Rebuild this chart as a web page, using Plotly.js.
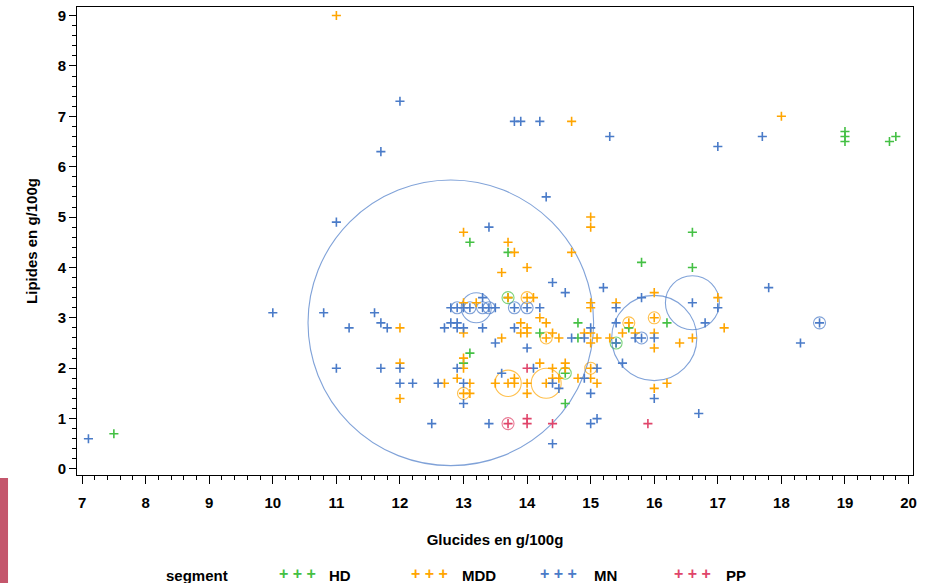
<!DOCTYPE html>
<html>
<head>
<meta charset="utf-8">
<script src="https://cdn.plot.ly/plotly-3.0.1.min.js"></script>
<style>
html,body{margin:0;padding:0;background:#fff;}
#chart{width:927px;height:583px;}
</style>
</head>
<body>
<div id="chart"></div>
<script>
// ---- Data (glucides x, lipides y, en g/100g) ----
const segments = ["HD", "MDD", "MN", "PP"];
const segmentColors = ["#44c044", "#ffa500", "#4a7bc8", "#e0456a"];

const hdGlucides = [7.5, 13.1, 13.7, 13.7, 13.1, 13.0, 14.2, 14.8, 14.8, 14.6, 14.6, 15.4, 15.6, 15.8, 16.6, 16.6, 16.2, 19.0, 19.0, 19.0, 19.7, 19.8];
const hdLipides  = [0.7, 4.5, 4.3, 3.4, 2.3, 2.1, 2.7, 2.9, 2.6, 1.9, 1.3, 2.5, 2.8, 4.1, 4.7, 4.0, 2.9, 6.7, 6.6, 6.5, 6.5, 6.6];

const mddGlucides = [11.0, 18.0, 14.7, 15.0, 15.0, 14.7, 13.0, 13.7, 13.8, 14.0, 13.6, 13.7, 14.0, 14.1, 13.0, 13.2, 14.2, 14.3, 12.0, 13.0,
  13.9, 14.0, 14.0, 13.9, 14.3, 14.4, 13.6, 14.5, 15.0, 15.0, 15.4, 16.0, 16.0, 15.6, 14.9, 15.0, 15.1, 15.0, 15.3, 15.5,
  15.7, 16.0, 16.4, 16.6, 17.0, 17.1, 16.0, 16.0, 16.2, 12.0, 12.0, 12.7, 13.0, 13.0, 12.9, 13.1, 13.0, 13.1, 13.5, 13.7,
  13.8, 13.8, 14.0, 14.0, 14.2, 14.3, 14.4, 14.6, 14.6, 14.4, 14.8, 15.0, 15.0, 15.1, 14.5];
const mddLipides  = [9.0, 7.0, 6.9, 5.0, 4.8, 4.3, 4.7, 4.5, 4.3, 4.0, 3.9, 3.4, 3.4, 3.4, 3.3, 3.3, 3.0, 2.9, 2.8, 2.7,
  2.9, 2.8, 2.7, 2.7, 2.6, 2.7, 2.6, 2.6, 3.3, 3.2, 3.3, 3.5, 3.0, 2.9, 2.7, 2.7, 2.6, 2.5, 2.6, 2.7,
  2.7, 2.7, 2.5, 2.6, 3.4, 2.8, 2.4, 1.6, 1.7, 2.1, 1.4, 1.7, 2.2, 2.0, 1.8, 1.7, 1.5, 1.5, 1.7, 1.7,
  1.8, 1.7, 1.7, 1.5, 2.1, 1.7, 2.0, 2.1, 2.0, 1.8, 1.8, 2.0, 1.8, 1.7, 1.8];

const mnGlucides = [7.1, 10.0, 10.8, 11.0, 11.0, 11.2, 12.0, 11.7, 11.6, 11.7, 11.8, 11.7, 12.0, 12.0, 12.2, 12.5, 12.6, 13.4, 13.8, 13.9,
  14.2, 14.3, 15.3, 17.0, 17.7, 17.8, 18.3, 18.6, 17.0, 16.7, 14.4, 14.6, 15.2, 12.9, 13.1, 13.3, 13.4, 12.8, 13.5, 14.2,
  13.3, 13.8, 14.0, 13.0, 12.7, 12.8, 12.9, 12.9, 13.0, 13.3, 13.8, 13.5, 14.0, 13.6, 14.1, 14.4, 14.5, 13.4, 14.4, 12.9,
  13.0, 13.0, 15.0, 14.7, 14.9, 15.4, 15.4, 15.8, 16.6, 16.0, 15.8, 15.7, 16.8, 15.4, 15.5, 16.0, 15.0, 15.0, 15.1, 15.1, 14.9];
const mnLipides  = [0.6, 3.1, 3.1, 4.9, 2.0, 2.8, 7.3, 6.3, 3.1, 2.9, 2.8, 2.0, 2.0, 1.7, 1.7, 0.9, 1.7, 4.8, 6.9, 6.9,
  6.9, 5.4, 6.6, 6.4, 6.6, 3.6, 2.5, 2.9, 3.2, 1.1, 3.7, 3.5, 3.6, 3.2, 3.2, 3.2, 3.2, 3.2, 3.2, 3.2,
  3.4, 3.2, 3.2, 3.2, 2.8, 2.9, 2.9, 2.8, 2.8, 2.8, 2.8, 2.5, 2.4, 1.9, 2.0, 1.7, 1.6, 0.9, 0.5, 2.0,
  1.7, 1.3, 2.8, 2.6, 2.6, 3.2, 2.9, 3.4, 3.3, 2.6, 2.6, 2.6, 2.9, 2.5, 2.1, 1.4, 1.5, 0.9, 1.0, 2.0, 1.8];

const ppGlucides = [13.7, 14.0, 14.0, 14.4, 15.9, 14.0];
const ppLipides  = [0.9, 1.0, 0.9, 0.9, 0.9, 2.0];

// Bubbles (taille relative)
const hdBulleGlucides = [13.7, 14.6, 15.4];
const hdBulleLipides  = [3.4, 1.9, 2.5];
const hdBulleTaille   = [1, 1, 1];

const mddBulleGlucides = [14.0, 14.3, 15.6, 16.0, 13.0, 13.7, 14.3, 15.0];
const mddBulleLipides  = [3.4, 2.6, 2.9, 3.0, 1.5, 1.7, 1.7, 2.0];
const mddBulleTaille   = [1, 1, 1, 1, 1, 2.2, 2.5, 1];

const mnBulleGlucides = [12.8, 12.9, 13.1, 13.3, 13.4, 13.2, 13.8, 14.0, 15.8, 16.0, 16.6, 18.6];
const mnBulleLipides  = [2.9, 3.2, 3.2, 3.2, 3.2, 3.2, 3.2, 3.2, 2.6, 2.6, 3.3, 2.9];
const mnBulleTaille   = [23.8, 1, 1, 1, 1, 2.5, 1, 1, 1, 7.1, 4.5, 1];

const ppBulleGlucides = [13.7];
const ppBulleLipides  = [0.9];
const ppBulleTaille   = [1];

const xTickVals = [7, 8, 9, 10, 11, 12, 13, 14, 15, 16, 17, 18, 19, 20];
const yTickVals = [0, 1, 2, 3, 4, 5, 6, 7, 8, 9];

// ---- Traces ----
const bubbleSets = [
  [hdBulleGlucides, hdBulleLipides, hdBulleTaille],
  [mddBulleGlucides, mddBulleLipides, mddBulleTaille],
  [mnBulleGlucides, mnBulleLipides, mnBulleTaille],
  [ppBulleGlucides, ppBulleLipides, ppBulleTaille]
];
const pointSets = [
  [hdGlucides, hdLipides],
  [mddGlucides, mddLipides],
  [mnGlucides, mnLipides],
  [ppGlucides, ppLipides]
];

const traces = [];
bubbleSets.forEach((b, i) => {
  traces.push({
    type: "scatter", mode: "markers", x: b[0], y: b[1],
    name: segments[i] + " bulle", showlegend: false, hoverinfo: "skip",
    marker: {
      symbol: "circle-open", size: b[2], sizemode: "diameter", sizeref: 1 / 12,
      color: segmentColors[i], line: {width: 1.1, color: segmentColors[i]}
    }
  });
});
pointSets.forEach((p, i) => {
  traces.push({
    type: "scatter", mode: "markers", x: p[0], y: p[1], name: segments[i],
    showlegend: false,
    marker: {
      symbol: "cross-thin", size: 6.5, color: segmentColors[i],
      line: {width: 1.6, color: segmentColors[i]}
    }
  });
});

// ---- Custom legend (annotations) ----
const fam = "Liberation Sans, Arial, sans-serif";
const textFont = {family: fam, size: 15, color: "#000", weight: "bold"};
const legendY = -0.214;
const legendSymX = [0.2396, 0.3975, 0.5518, 0.7119];
const legendLabelX = [0.2993, 0.4583, 0.6162, 0.774];
const annotations = [{
  xref: "paper", yref: "paper", x: 0.104, y: legendY, xanchor: "left", yanchor: "middle",
  text: "segment", showarrow: false, font: textFont
}];
segments.forEach((s, i) => {
  annotations.push({
    xref: "paper", yref: "paper", x: legendSymX[i], y: legendY + 0.004, xanchor: "left", yanchor: "middle",
    showarrow: false, text: "+ + +",
    font: {family: fam, size: 16, color: segmentColors[i]}
  });
  annotations.push({
    xref: "paper", yref: "paper", x: legendLabelX[i], y: legendY, xanchor: "left", yanchor: "middle",
    showarrow: false, text: s, font: textFont
  });
});

const layout = {
  width: 927, height: 583,
  margin: {l: 77, r: 14, t: 7, b: 108, pad: 0},
  paper_bgcolor: "#fff", plot_bgcolor: "#fff",
  showlegend: false,
  font: textFont,
  xaxis: {
    range: [6.92, 20.07], tickvals: xTickVals, ticks: "outside", ticklen: 8, tickwidth: 1, tickcolor: "#000",
    ticklabelstandoff: 6,
    minor: {dtick: 0.2, ticks: "outside", ticklen: 4, tickwidth: 1, tickcolor: "#000", showgrid: false},
    showgrid: false, zeroline: false, showline: true, mirror: true, linecolor: "#000", linewidth: 1,
    tickfont: textFont,
    title: {text: "Glucides en g/100g", font: textFont, standoff: 24}
  },
  yaxis: {
    range: [-0.12, 9.17], tickvals: yTickVals, ticks: "outside", ticklen: 7, tickwidth: 1, tickcolor: "#000",
    minor: {dtick: 0.2, ticks: "outside", ticklen: 4, tickwidth: 1, tickcolor: "#000", showgrid: false},
    showgrid: false, zeroline: false, showline: true, mirror: true, linecolor: "#000", linewidth: 1,
    tickfont: textFont,
    title: {text: "Lipides en g/100g", font: textFont, standoff: 16}
  },
  annotations: annotations,
  shapes: [{
    type: "rect", xref: "paper", yref: "paper",
    x0: -0.0921, x1: -0.0825, y0: -0.0064, y1: -0.231,
    fillcolor: "#c4566c", line: {width: 0}, layer: "below"
  }]
};

Plotly.newPlot("chart", traces, layout, {displayModeBar: false, staticPlot: true});
</script>
</body>
</html>
